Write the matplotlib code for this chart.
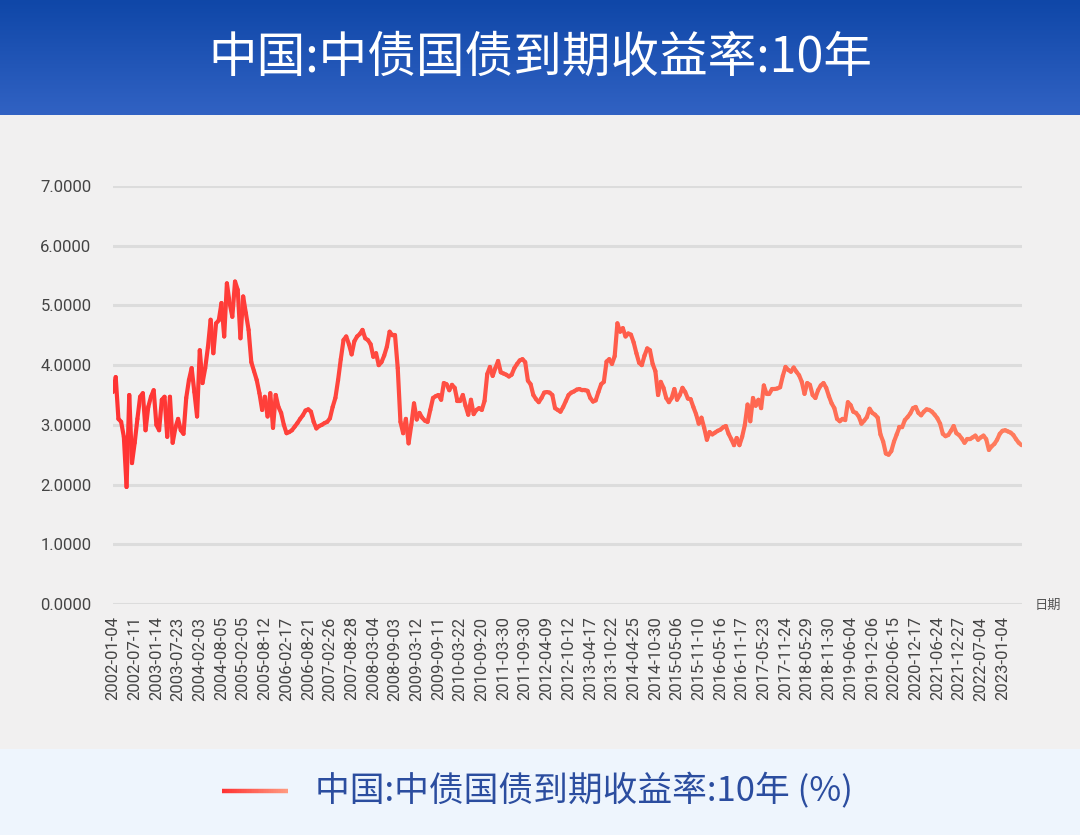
import matplotlib
matplotlib.use('Agg')
import matplotlib.pyplot as plt
import numpy as np
from matplotlib.collections import LineCollection
from matplotlib.colors import LinearSegmentedColormap

plt.rcParams['font.family'] = ['Noto Sans CJK SC', 'DejaVu Sans']

title = '中国:中债国债到期收益率:10年'
legend_label = '中国:中债国债到期收益率:10年 (%)'

tick_dates = ['2002-01-04', '2002-07-11', '2003-01-14', '2003-07-23', '2004-02-03', '2004-08-05',
              '2005-02-05', '2005-08-12', '2006-02-17', '2006-08-21', '2007-02-26', '2007-08-28',
              '2008-03-04', '2008-09-03', '2009-03-12', '2009-09-11', '2010-03-22', '2010-09-20',
              '2011-03-30', '2011-09-30', '2012-04-09', '2012-10-12', '2013-04-17', '2013-10-22',
              '2014-04-25', '2014-10-30', '2015-05-06', '2015-11-10', '2016-05-16', '2016-11-17',
              '2017-05-23', '2017-11-24', '2018-05-29', '2018-11-30', '2019-06-04', '2019-12-06',
              '2020-06-15', '2020-12-17', '2021-06-24', '2021-12-27', '2022-07-04', '2023-01-04']

# 8 readings per tick interval (one row per interval)
yield_rows = [
    [3.55, 3.80, 3.10, 3.05, 2.80, 1.96, 3.50, 2.36],
    [2.70, 3.10, 3.47, 3.53, 2.91, 3.30, 3.47, 3.58],
    [3.00, 2.91, 3.42, 3.47, 2.80, 3.47, 2.70, 2.95],
    [3.10, 2.91, 2.85, 3.45, 3.75, 3.95, 3.55, 3.14],
    [4.25, 3.70, 3.95, 4.30, 4.76, 4.20, 4.70, 4.75],
    [5.04, 4.48, 5.37, 5.04, 4.81, 5.40, 5.26, 4.45],
    [5.15, 4.87, 4.59, 4.05, 3.90, 3.75, 3.53, 3.25],
    [3.47, 3.14, 3.53, 2.95, 3.50, 3.30, 3.20, 3.00],
    [2.86, 2.88, 2.91, 2.97, 3.03, 3.10, 3.16, 3.24],
    [3.26, 3.22, 3.05, 2.94, 2.98, 3.00, 3.03, 3.05],
    [3.11, 3.30, 3.45, 3.75, 4.10, 4.42, 4.48, 4.35],
    [4.18, 4.40, 4.48, 4.52, 4.59, 4.45, 4.42, 4.35],
    [4.14, 4.20, 4.00, 4.05, 4.16, 4.31, 4.56, 4.50],
    [4.50, 3.95, 3.05, 2.86, 3.10, 2.69, 3.00, 3.36],
    [3.09, 3.20, 3.12, 3.07, 3.05, 3.25, 3.45, 3.48],
    [3.50, 3.42, 3.70, 3.68, 3.58, 3.67, 3.62, 3.40],
    [3.40, 3.50, 3.32, 3.17, 3.42, 3.18, 3.25, 3.28],
    [3.25, 3.40, 3.85, 3.97, 3.82, 3.95, 4.07, 3.88],
    [3.86, 3.84, 3.81, 3.84, 3.95, 4.02, 4.08, 4.10],
    [4.05, 3.74, 3.68, 3.50, 3.43, 3.38, 3.45, 3.54],
    [3.55, 3.54, 3.50, 3.28, 3.25, 3.22, 3.30, 3.40],
    [3.50, 3.54, 3.56, 3.59, 3.60, 3.58, 3.58, 3.57],
    [3.45, 3.39, 3.41, 3.55, 3.68, 3.72, 4.06, 4.10],
    [4.02, 4.15, 4.70, 4.56, 4.62, 4.48, 4.53, 4.51],
    [4.38, 4.20, 4.04, 4.00, 4.16, 4.28, 4.25, 4.02],
    [3.90, 3.50, 3.72, 3.62, 3.45, 3.38, 3.45, 3.60],
    [3.42, 3.50, 3.62, 3.55, 3.44, 3.43, 3.30, 3.18],
    [3.02, 3.12, 2.95, 2.75, 2.88, 2.84, 2.87, 2.90],
    [2.92, 2.96, 2.98, 2.85, 2.76, 2.66, 2.78, 2.66],
    [2.80, 3.00, 3.34, 3.06, 3.45, 3.32, 3.42, 3.28],
    [3.66, 3.52, 3.52, 3.60, 3.60, 3.61, 3.63, 3.82],
    [3.97, 3.92, 3.89, 3.96, 3.89, 3.83, 3.72, 3.52],
    [3.70, 3.67, 3.50, 3.45, 3.58, 3.66, 3.70, 3.62],
    [3.48, 3.36, 3.28, 3.10, 3.06, 3.10, 3.08, 3.38],
    [3.33, 3.22, 3.20, 3.14, 3.02, 3.07, 3.13, 3.27],
    [3.20, 3.17, 3.12, 2.84, 2.72, 2.52, 2.50, 2.56],
    [2.72, 2.84, 2.96, 2.96, 3.08, 3.13, 3.19, 3.28],
    [3.30, 3.20, 3.16, 3.22, 3.26, 3.25, 3.22, 3.17],
    [3.11, 3.02, 2.85, 2.81, 2.83, 2.90, 2.98, 2.86],
    [2.83, 2.77, 2.70, 2.76, 2.76, 2.79, 2.82, 2.75],
    [2.79, 2.82, 2.76, 2.58, 2.64, 2.68, 2.75, 2.85],
    [2.90, 2.91, 2.89, 2.87, 2.83, 2.76, 2.70, 2.66],
]

values = np.array(yield_rows).ravel()
x = np.arange(len(values)) / 8.0

W, H = 1080, 835
fig = plt.figure(figsize=(W / 100, H / 100), dpi=100)
fig.patch.set_facecolor('#f1f0f0')

# header band with gradient
hdr = fig.add_axes([0, 1 - 115 / H, 1, 115 / H])
cmap_h = LinearSegmentedColormap.from_list('hdr', ['#0f47a8', '#3162c3'])
hdr.imshow(np.linspace(0, 1, 100).reshape(-1, 1), aspect='auto', cmap=cmap_h,
           extent=[0, 1, 0, 1], origin='upper')
hdr.set_xlim(0, 1)
hdr.set_ylim(0, 1)
hdr.axis('off')
hdr.text(0.5, 0.5, title, color='white', fontsize=35, ha='center', va='center')

# legend band
leg = fig.add_axes([0, 0, 1, 86 / H])
leg.set_facecolor('#eef5fd')
leg.set_xlim(0, W)
leg.set_ylim(0, 86)
leg.set_xticks([])
leg.set_yticks([])
for s in leg.spines.values():
    s.set_visible(False)
lx = np.linspace(222, 288, 40)
ly = np.full_like(lx, 835 - 791.0)
lseg = np.stack([np.column_stack([lx[:-1], ly[:-1]]), np.column_stack([lx[1:], ly[1:]])], axis=1)
cmap_leg = LinearSegmentedColormap.from_list('leg', ['#ff3333', '#ff9a80'])
lc2 = LineCollection(lseg, colors=cmap_leg(np.linspace(0, 1, len(lseg))), linewidths=3.2)
leg.add_collection(lc2)
leg.text(315, 835 - 791.0, legend_label, color='#2b4d9f', fontsize=25, ha='left', va='center')

# main plot
ax = fig.add_axes([113 / W, (H - 604) / H, 909 / W, 418 / H])
ax.set_facecolor('#f1f0f0')
ax.set_xlim(0, 41.9)
ax.set_ylim(0, 7)
ax.set_yticks(np.arange(0, 8, 1))
ax.set_yticklabels(['%.4f' % v for v in range(8)], family=['Roboto', 'DejaVu Sans'])
ax.set_xticks(np.arange(len(tick_dates)))
ax.set_xticklabels(tick_dates, rotation=90, family=['Roboto', 'DejaVu Sans'])
ax.tick_params(axis='y', length=0, pad=15.5, labelsize=12, labelcolor='#444444')
ax.tick_params(axis='x', length=0, pad=9, labelsize=12, labelcolor='#444444')
ax.grid(axis='y', color='#dcdcdc', linewidth=2.2)
ax.set_axisbelow(True)
for s in ax.spines.values():
    s.set_visible(False)

pts = np.column_stack([x, values])
segs = np.stack([pts[:-1], pts[1:]], axis=1)
cmap_line = LinearSegmentedColormap.from_list('line', ['#ff3333', '#ff7d5e'])
lc = LineCollection(segs, colors=cmap_line(x[:-1] / x[-1]), linewidths=3.0,
                    capstyle='round', joinstyle='round')
ax.add_collection(lc)

fig.text(1048 / W, 1 - 605 / H, '日期', fontsize=9.5, color='#555555', ha='center', va='center')

fig.savefig('out.png', dpi=100, facecolor=fig.get_facecolor())
